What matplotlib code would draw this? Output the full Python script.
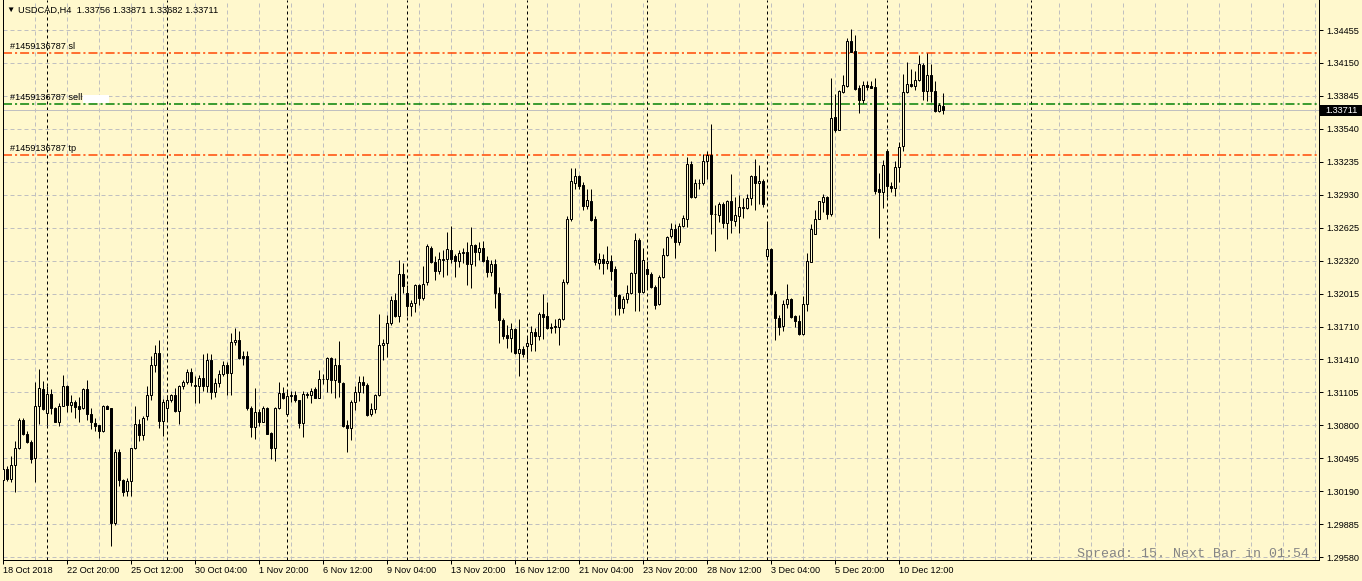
#!/usr/bin/env python3
"""
USDCAD H4 candlestick chart, MetaTrader-style (lemon background, hollow bull bars).

Writes:
  out.png  (1362 x 581 px)
"""

import numpy as np
import matplotlib
matplotlib.use("Agg")
import matplotlib.pyplot as plt
import matplotlib.transforms as mtransforms
from matplotlib.patches import Rectangle
from matplotlib.ticker import MultipleLocator


# -----------------------------------------------------------------------------
# Data (one value per H4 bar)
# -----------------------------------------------------------------------------
opens = [
    1.3029, 1.3039, 1.3030, 1.3043, 1.3059, 1.3085, 1.3072, 1.3064, 1.3050, 1.3098,
    1.3113, 1.3091, 1.3109, 1.3096, 1.3083, 1.3098, 1.3116, 1.3099, 1.3101, 1.3098,
    1.3096, 1.3113, 1.3090, 1.3082, 1.3080, 1.3075, 1.3098, 1.3096, 1.2989, 1.3055,
    1.3029, 1.3019, 1.3028, 1.3059, 1.3081, 1.3071, 1.3088, 1.3108, 1.3136, 1.3147,
    1.3084, 1.3096, 1.3103, 1.3108, 1.3093, 1.3116, 1.3120, 1.3129, 1.3117, 1.3116,
    1.3124, 1.3116, 1.3140, 1.3111, 1.3119, 1.3127, 1.3136, 1.3128, 1.3157, 1.3159,
    1.3144, 1.3144, 1.3096, 1.3078, 1.3092, 1.3083, 1.3096, 1.3073, 1.3059, 1.3096,
    1.3110, 1.3090, 1.3107, 1.3108, 1.3103, 1.3082, 1.3109, 1.3108, 1.3113, 1.3105,
    1.3123, 1.3123, 1.3142, 1.3122, 1.3136, 1.3119, 1.3080, 1.3077, 1.3101, 1.3111,
    1.3120, 1.3117, 1.3090, 1.3095, 1.3108, 1.3154, 1.3156, 1.3174, 1.3196, 1.3181,
    1.3220, 1.3202, 1.3190, 1.3193, 1.3210, 1.3198, 1.3212, 1.3244, 1.3231, 1.3223,
    1.3233, 1.3234, 1.3242, 1.3236, 1.3232, 1.3239, 1.3240, 1.3229, 1.3247, 1.3240,
    1.3244, 1.3233, 1.3222, 1.3229, 1.3202, 1.3177, 1.3163, 1.3161, 1.3169, 1.3147,
    1.3150, 1.3153, 1.3155, 1.3166, 1.3162, 1.3183, 1.3181, 1.3171, 1.3172, 1.3171,
    1.3178, 1.3212, 1.3271, 1.3304, 1.3310, 1.3302, 1.3283, 1.3287, 1.3271, 1.3230,
    1.3234, 1.3230, 1.3232, 1.3224, 1.3200, 1.3188, 1.3197, 1.3202, 1.3221, 1.3251,
    1.3203, 1.3224, 1.3220, 1.3208, 1.3192, 1.3217, 1.3237, 1.3255, 1.3261, 1.3249,
    1.3264, 1.3271, 1.3322, 1.3291, 1.3304, 1.3304, 1.3324, 1.3330, 1.3275, 1.3274,
    1.3285, 1.3267, 1.3287, 1.3269, 1.3273, 1.3281, 1.3281, 1.3290, 1.3310, 1.3304,
    1.3306, 1.3236, 1.3243, 1.3201, 1.3179, 1.3172, 1.3192, 1.3197, 1.3181, 1.3176,
    1.3164, 1.3192, 1.3231, 1.3257, 1.3271, 1.3286, 1.3291, 1.3275, 1.3365, 1.3353,
    1.3388, 1.3394, 1.3435, 1.3426, 1.3392, 1.3381, 1.3395, 1.3394, 1.3393, 1.3298,
    1.3296, 1.3334, 1.3301, 1.3299, 1.3319, 1.3338, 1.3388, 1.3396, 1.3394, 1.3399,
    1.3413, 1.3389, 1.3404, 1.3389, 1.3371, 1.33756,
]
highs = [
    1.3046, 1.3042, 1.3051, 1.3065, 1.3087, 1.3087, 1.3075, 1.3066, 1.3120, 1.3132,
    1.3121, 1.3116, 1.3113, 1.3097, 1.3100, 1.3126, 1.3117, 1.3108, 1.3103, 1.3106,
    1.3114, 1.3122, 1.3096, 1.3087, 1.3080, 1.3099, 1.3099, 1.3096, 1.3058, 1.3058,
    1.3030, 1.3031, 1.3059, 1.3098, 1.3086, 1.3088, 1.3116, 1.3144, 1.3154, 1.3159,
    1.3104, 1.3108, 1.3109, 1.3114, 1.3117, 1.3122, 1.3132, 1.3133, 1.3125, 1.3126,
    1.3146, 1.3147, 1.3146, 1.3124, 1.3131, 1.3139, 1.3138, 1.3165, 1.3170, 1.3167,
    1.3149, 1.3149, 1.3098, 1.3114, 1.3095, 1.3098, 1.3097, 1.3074, 1.3097, 1.3120,
    1.3115, 1.3112, 1.3112, 1.3112, 1.3103, 1.3112, 1.3111, 1.3114, 1.3115, 1.3131,
    1.3127, 1.3143, 1.3143, 1.3142, 1.3158, 1.3120, 1.3085, 1.3103, 1.3116, 1.3125,
    1.3125, 1.3119, 1.3100, 1.3109, 1.3183, 1.3160, 1.3182, 1.3199, 1.3202, 1.3233,
    1.3230, 1.3210, 1.3196, 1.3211, 1.3211, 1.3227, 1.3248, 1.3246, 1.3236, 1.3240,
    1.3242, 1.3259, 1.3264, 1.3238, 1.3242, 1.3244, 1.3249, 1.3263, 1.3248, 1.3249,
    1.3250, 1.3236, 1.3233, 1.3234, 1.3208, 1.3179, 1.3173, 1.3174, 1.3170, 1.3178,
    1.3153, 1.3162, 1.3172, 1.3170, 1.3185, 1.3201, 1.3194, 1.3174, 1.3178, 1.3179,
    1.3215, 1.3273, 1.3318, 1.3318, 1.3311, 1.3305, 1.3298, 1.3298, 1.3273, 1.3239,
    1.3238, 1.3246, 1.3237, 1.3227, 1.3201, 1.3199, 1.3210, 1.3222, 1.3258, 1.3253,
    1.3244, 1.3232, 1.3222, 1.3210, 1.3219, 1.3244, 1.3255, 1.3267, 1.3266, 1.3267,
    1.3274, 1.3328, 1.3324, 1.3308, 1.3308, 1.3331, 1.3334, 1.3359, 1.3284, 1.3286,
    1.3286, 1.3288, 1.3312, 1.3291, 1.3293, 1.3290, 1.3294, 1.3311, 1.3326, 1.3321,
    1.3308, 1.3268, 1.3244, 1.3204, 1.3182, 1.3196, 1.3211, 1.3198, 1.3182, 1.3182,
    1.3199, 1.3239, 1.3266, 1.3279, 1.3287, 1.3294, 1.3292, 1.3401, 1.3386, 1.3390,
    1.3404, 1.3438, 1.3446, 1.3441, 1.3395, 1.3398, 1.3398, 1.3398, 1.3401, 1.3313,
    1.3325, 1.3335, 1.3305, 1.3324, 1.3342, 1.3405, 1.3416, 1.3409, 1.3408, 1.3422,
    1.3415, 1.3424, 1.3414, 1.3398, 1.3378, 1.33871,
]
lows = [
    1.3026, 1.3028, 1.3027, 1.3018, 1.3058, 1.3071, 1.3063, 1.3045, 1.3027, 1.3081,
    1.3094, 1.3080, 1.3090, 1.3083, 1.3079, 1.3098, 1.3092, 1.3092, 1.3087, 1.3083,
    1.3095, 1.3085, 1.3076, 1.3075, 1.3068, 1.3074, 1.3095, 1.2968, 1.2988, 1.3024,
    1.3014, 1.3014, 1.3014, 1.3058, 1.3065, 1.3066, 1.3085, 1.3103, 1.3129, 1.3077,
    1.3070, 1.3085, 1.3101, 1.3092, 1.3081, 1.3113, 1.3118, 1.3116, 1.3100, 1.3100,
    1.3112, 1.3111, 1.3104, 1.3106, 1.3115, 1.3125, 1.3108, 1.3108, 1.3154, 1.3141,
    1.3136, 1.3094, 1.3069, 1.3067, 1.3079, 1.3083, 1.3072, 1.3049, 1.3047, 1.3095,
    1.3104, 1.3088, 1.3101, 1.3101, 1.3077, 1.3069, 1.3105, 1.3100, 1.3105, 1.3105,
    1.3118, 1.3111, 1.3110, 1.3105, 1.3106, 1.3078, 1.3055, 1.3066, 1.3094, 1.3102,
    1.3110, 1.3088, 1.3088, 1.3091, 1.3107, 1.3140, 1.3143, 1.3173, 1.3180, 1.3175,
    1.3202, 1.3181, 1.3181, 1.3185, 1.3191, 1.3196, 1.3210, 1.3230, 1.3214, 1.3220,
    1.3217, 1.3219, 1.3230, 1.3217, 1.3226, 1.3230, 1.3210, 1.3207, 1.3227, 1.3233,
    1.3231, 1.3217, 1.3218, 1.3188, 1.3156, 1.3160, 1.3151, 1.3148, 1.3146, 1.3125,
    1.3143, 1.3141, 1.3149, 1.3149, 1.3159, 1.3160, 1.3169, 1.3165, 1.3165, 1.3154,
    1.3177, 1.3211, 1.3269, 1.3298, 1.3298, 1.3279, 1.3280, 1.3269, 1.3228, 1.3224,
    1.3220, 1.3224, 1.3214, 1.3182, 1.3182, 1.3184, 1.3193, 1.3201, 1.3186, 1.3186,
    1.3202, 1.3207, 1.3207, 1.3187, 1.3191, 1.3216, 1.3236, 1.3253, 1.3235, 1.3247,
    1.3263, 1.3263, 1.3290, 1.3290, 1.3298, 1.3302, 1.3308, 1.3257, 1.3241, 1.3268,
    1.3262, 1.3252, 1.3258, 1.3264, 1.3258, 1.3272, 1.3280, 1.3284, 1.3279, 1.3285,
    1.3282, 1.3234, 1.3200, 1.3159, 1.3163, 1.3167, 1.3188, 1.3179, 1.3171, 1.3163,
    1.3163, 1.3186, 1.3231, 1.3257, 1.3271, 1.3277, 1.3271, 1.3273, 1.3351, 1.3353,
    1.3387, 1.3393, 1.3425, 1.3390, 1.3369, 1.3378, 1.3390, 1.3392, 1.3294, 1.3253,
    1.3281, 1.3291, 1.3296, 1.3292, 1.3305, 1.3334, 1.3387, 1.3393, 1.3390, 1.3398,
    1.3381, 1.3380, 1.3379, 1.3370, 1.3370, 1.33682,
]
closes = [
    1.3039, 1.3030, 1.3043, 1.3059, 1.3085, 1.3072, 1.3064, 1.3049, 1.3098, 1.3114,
    1.3095, 1.3109, 1.3096, 1.3083, 1.3098, 1.3116, 1.3099, 1.3101, 1.3097, 1.3095,
    1.3113, 1.3090, 1.3083, 1.3079, 1.3075, 1.3098, 1.3095, 1.2989, 1.3055, 1.3029,
    1.3018, 1.3028, 1.3059, 1.3081, 1.3071, 1.3087, 1.3108, 1.3136, 1.3147, 1.3084,
    1.3101, 1.3103, 1.3108, 1.3093, 1.3116, 1.3120, 1.3129, 1.3120, 1.3116, 1.3124,
    1.3116, 1.3140, 1.3111, 1.3119, 1.3127, 1.3136, 1.3128, 1.3157, 1.3159, 1.3142,
    1.3142, 1.3096, 1.3078, 1.3092, 1.3083, 1.3096, 1.3072, 1.3059, 1.3096, 1.3110,
    1.3105, 1.3107, 1.3108, 1.3103, 1.3082, 1.3109, 1.3108, 1.3112, 1.3105, 1.3123,
    1.3123, 1.3142, 1.3122, 1.3136, 1.3120, 1.3079, 1.3077, 1.3101, 1.3111, 1.3120,
    1.3117, 1.3089, 1.3095, 1.3108, 1.3154, 1.3156, 1.3174, 1.3196, 1.3181, 1.3220,
    1.3209, 1.3190, 1.3193, 1.3210, 1.3198, 1.3211, 1.3246, 1.3231, 1.3223, 1.3234,
    1.3234, 1.3243, 1.3234, 1.3232, 1.3239, 1.3240, 1.3229, 1.3247, 1.3240, 1.3244,
    1.3232, 1.3222, 1.3229, 1.3202, 1.3177, 1.3162, 1.3161, 1.3169, 1.3147, 1.3150,
    1.3146, 1.3156, 1.3166, 1.3162, 1.3183, 1.3180, 1.3170, 1.3170, 1.3171, 1.3178,
    1.3212, 1.3271, 1.3306, 1.3310, 1.3301, 1.3283, 1.3288, 1.3270, 1.3231, 1.3234,
    1.3230, 1.3232, 1.3223, 1.3199, 1.3188, 1.3197, 1.3202, 1.3221, 1.3251, 1.3203,
    1.3233, 1.3220, 1.3208, 1.3191, 1.3217, 1.3237, 1.3254, 1.3261, 1.3249, 1.3264,
    1.3272, 1.3322, 1.3291, 1.3304, 1.3304, 1.3324, 1.3330, 1.3275, 1.3275, 1.3285,
    1.3267, 1.3287, 1.3270, 1.3274, 1.3282, 1.3282, 1.3290, 1.3310, 1.3304, 1.3306,
    1.3285, 1.3243, 1.3201, 1.3179, 1.3171, 1.3192, 1.3197, 1.3180, 1.3176, 1.3164,
    1.3192, 1.3232, 1.3261, 1.3271, 1.3287, 1.3291, 1.3275, 1.3364, 1.3353, 1.3389,
    1.3395, 1.3435, 1.3425, 1.3391, 1.3381, 1.3395, 1.3393, 1.3392, 1.3297, 1.3296,
    1.3321, 1.3301, 1.3299, 1.3319, 1.3337, 1.3388, 1.3396, 1.3394, 1.3399, 1.3414,
    1.3389, 1.3404, 1.3389, 1.3371, 1.3376, 1.33711,
]

# time axis labels: one every 16 bars
date_labels = [
    "18 Oct 2018", "22 Oct 20:00", "25 Oct 12:00", "30 Oct 04:00", "1 Nov 20:00",
    "6 Nov 12:00", "9 Nov 04:00", "13 Nov 20:00", "16 Nov 12:00", "21 Nov 04:00",
    "23 Nov 20:00", "28 Nov 12:00", "3 Dec 04:00", "5 Dec 20:00", "10 Dec 12:00",
]
label_step = 16
# first bar of each trading week (period separators)
week_starts = [11, 41, 71, 101, 131, 161, 191, 221, 257]

price_ticks = [1.29580, 1.29885, 1.30190, 1.30495, 1.30800, 1.31105, 1.31410, 1.31710,
               1.32015, 1.32320, 1.32625, 1.32930, 1.33235, 1.33540, 1.33845, 1.34150,
               1.34455]
price_tick_labels = ["%.5f" % p for p in price_ticks]

# open order levels
order_id = "#1459136787"
stop_loss = 1.34240
entry_price = 1.33770
take_profit = 1.33300
bid = 1.33711

symbol_header = "USDCAD,H4  1.33756 1.33871 1.33682 1.33711"
spread_text = "Spread: 15. Next Bar in 01:54"


# -----------------------------------------------------------------------------
# Style
# -----------------------------------------------------------------------------
W, H, DPI = 1362, 581, 100
PX = 72.0 / DPI                 # one pixel expressed in points
BG = "#FFF8CD"
GRID = "#C0C0C0"
ORDER_RED = "#FF4500"
ORDER_GREEN = "#008000"
FONT = ["Liberation Sans", "DejaVu Sans"]
FS = 6.6

plt.rcParams["font.family"] = FONT


def main():
    fig = plt.figure(figsize=(W / DPI, H / DPI), dpi=DPI, facecolor=BG)
    ax = fig.add_axes([3 / W, 1 - 560 / H, 1316 / W, 560 / H])
    ax.set_facecolor(BG)

    o = np.array(opens)
    hi = np.array(highs)
    lo = np.array(lows)
    c = np.array(closes)
    x = np.arange(len(o))
    up = c >= o

    # candles
    ax.vlines(x, lo, hi, color="black", lw=PX, zorder=3, snap=True)
    ax.bar(x[up], c[up] - o[up], bottom=o[up], width=0.5,
           facecolor=BG, edgecolor="black", lw=PX, zorder=4)
    ax.bar(x[~up], o[~up] - c[~up], bottom=c[~up], width=0.5,
           facecolor="black", edgecolor="black", lw=PX, zorder=4)

    # scales: 4 px per bar, 0.0000925 per px
    k = (price_ticks[-1] - price_ticks[0]) / 527.0
    ax.set_ylim(price_ticks[0] - 3 * k, price_ticks[-1] + 30 * k)
    ax.set_xlim(-0.075, 328.925)

    # grid + period separators
    ax.set_yticks(price_ticks)
    ax.set_yticklabels(price_tick_labels)
    ax.set_xticks(np.arange(len(date_labels)) * label_step)
    ax.set_xticklabels(date_labels)
    ax.xaxis.set_minor_locator(MultipleLocator(8))
    ax.grid(True, which="both", axis="both", color=GRID, lw=PX,
            linestyle=(0, (4, 3)), zorder=1)
    for w in week_starts:
        ax.axvline(w, color="black", lw=PX, linestyle=(0, (3, 3)), zorder=2, snap=True)

    # order lines and bid line
    ax.axhline(bid, color=GRID, lw=PX, zorder=2, snap=True)
    for lvl, col in [(stop_loss, ORDER_RED), (take_profit, ORDER_RED),
                     (entry_price, ORDER_GREEN)]:
        ax.axhline(lvl, color=col, lw=PX * 1.5, dashes=(6, 2, 1.4, 2), zorder=2.5,
                   snap=True)

    lx = 7 / 1316
    for lvl, tag in [(stop_loss, "sl"), (entry_price, "sell"), (take_profit, "tp")]:
        ax.annotate(f"{order_id} {tag}", xy=(lx, lvl), xycoords=("axes fraction", "data"),
                    xytext=(0, 1.3), textcoords="offset points",
                    fontsize=FS, ha="left", va="bottom", color="black", zorder=6)
    fig.patches.append(Rectangle((83 / W, 1 - 102.5 / H), 26 / W, 8 / H,
                                 transform=fig.transFigure, facecolor="white",
                                 edgecolor="none", zorder=7))

    # axes frame and ticks
    for side in ["left", "right", "bottom"]:
        ax.spines[side].set_color("black")
        ax.spines[side].set_linewidth(PX)
    ax.spines["top"].set_visible(False)
    ax.yaxis.tick_right()
    ax.tick_params(axis="y", which="major", direction="out", length=3, width=PX,
                   pad=2.5, labelsize=FS, colors="black")
    ax.tick_params(axis="x", which="major", direction="out", length=3, width=PX,
                   pad=1.5, labelsize=FS, colors="black")
    ax.tick_params(axis="both", which="minor", length=0)
    for t in ax.get_xticklabels():
        t.set_horizontalalignment("left")

    # current bid price tag
    blend = mtransforms.blended_transform_factory(ax.transAxes, ax.transData)
    ax.add_patch(Rectangle((1.0008, bid - 5.2 * k), 42 / 1316, 10.4 * k,
                           transform=blend, facecolor="black", edgecolor="none",
                           clip_on=False, zorder=8))
    ax.text(1.0050, bid, "%.5f" % bid, transform=blend, color="white", fontsize=FS,
            ha="left", va="center", clip_on=False, zorder=9)

    # header + spread info
    fig.text(6.5 / W, 1 - 10.5 / H, "\u25bc", fontsize=6, ha="left", va="center",
             family=FONT)
    fig.text(18 / W, 1 - 10 / H, symbol_header, fontsize=6.7, ha="left", va="center")
    fig.text(1077 / W, 1 - 557 / H, spread_text, fontsize=9.6, ha="left",
             va="baseline", color="#858585", family="Liberation Mono")

    fig.savefig("out.png", dpi=DPI, facecolor=BG)
    plt.close(fig)


if __name__ == "__main__":
    main()
